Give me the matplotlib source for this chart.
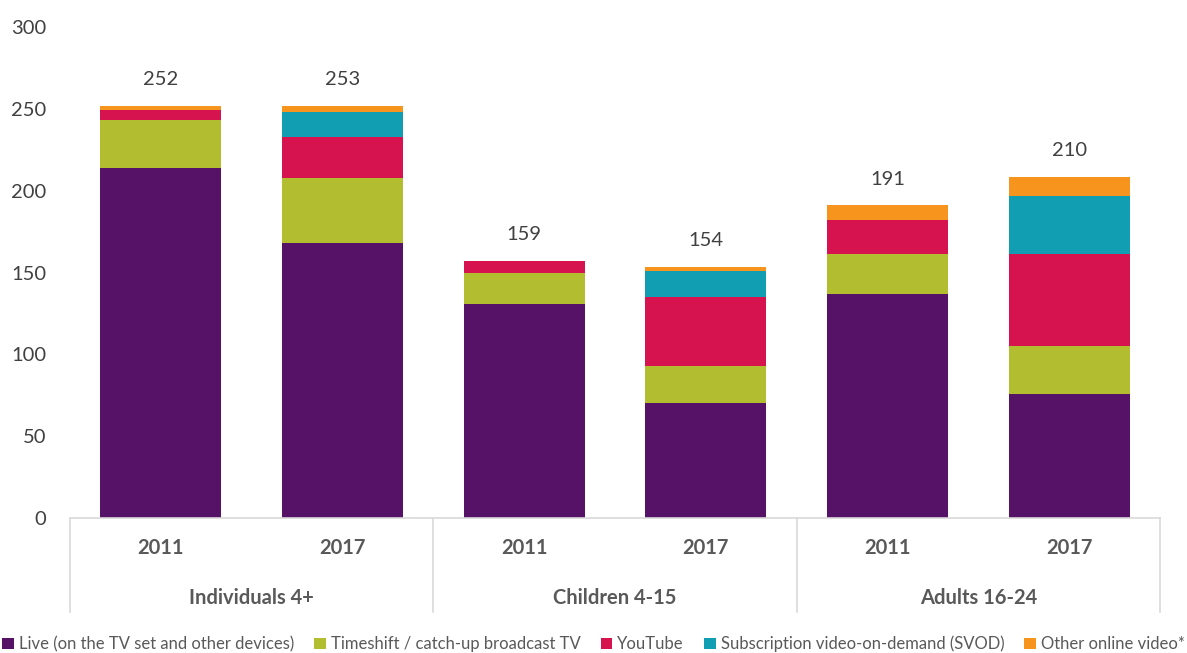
import numpy as np
import matplotlib.pyplot as plt
from matplotlib.transforms import blended_transform_factory
from matplotlib.lines import Line2D

plt.rcParams['font.family'] = ['Lato', 'DejaVu Sans']

# --- data (minutes per day) ---
groups = ["Individuals 4+", "Children 4-15", "Adults 16-24"]
years = ["2011", "2017", "2011", "2017", "2011", "2017"]
series = [
    "Live (on the TV set and other devices)",
    "Timeshift / catch-up broadcast TV",
    "YouTube",
    "Subscription video-on-demand (SVOD)",
    "Other online video*",
]
live = [214, 168, 131, 70, 137, 76]
timeshift = [29, 40, 19, 23, 24, 29]
youtube = [6, 25, 7, 42, 21, 56]
svod = [0, 15, 0, 16, 0, 36]
other = [3, 4, 0, 2.5, 9, 11.5]
totals = [252, 253, 159, 154, 191, 210]

colors = ["#561266", "#B2BE2F", "#D6134F", "#119EB2", "#F7941E"]

fig = plt.figure(figsize=(11.87, 6.53), dpi=100)
ax = fig.add_axes([70 / 1187, 1 - 518 / 653, 1090 / 1187, 491 / 653])

x = np.arange(len(years))
bottom = np.zeros(len(years))
for vals, col, name in zip([live, timeshift, youtube, svod, other], colors, series):
    ax.bar(x, vals, width=0.665, bottom=bottom, color=col, label=name, edgecolor="none")
    bottom += np.array(vals)

for xi, top, t in zip(x, bottom, totals):
    ax.annotate(str(t), (xi, top), xytext=(0, 19), textcoords="offset points",
                ha="center", va="center", fontsize=14.5, color="#404040")

ax.set_xlim(-0.5, len(years) - 0.5)
ax.set_ylim(0, 300)
ax.set_yticks(range(0, 301, 50))
ax.tick_params(axis="y", length=0, labelsize=14.5, labelcolor="#404040", pad=17)
ax.set_xticks([])
for s in ["top", "right", "left"]:
    ax.spines[s].set_visible(False)
ax.spines["bottom"].set_color("#D9D9D9")
ax.spines["bottom"].set_linewidth(1.2)

# two-level category axis
trans = blended_transform_factory(ax.transData, ax.transAxes)
for xi, yr in zip(x, years):
    ax.text(xi, -0.061, yr, transform=trans, ha="center", va="center",
            fontsize=14.5, fontweight="bold", color="#595959")
for gi, g in enumerate(groups):
    ax.text(2 * gi + 0.5, -0.163, g, transform=trans, ha="center", va="center",
            fontsize=14.5, fontweight="bold", color="#595959")
for sx in [-0.5, 1.5, 3.5, 5.5]:
    ax.add_line(Line2D([sx, sx], [0, -0.191], transform=trans, color="#D9D9D9",
                       lw=1.2, clip_on=False))

fig.legend(loc="lower center", bbox_to_anchor=(0.5, -0.022), ncol=5, frameon=False,
           fontsize=12, handlelength=0.7, handleheight=0.7, handletextpad=0.3,
           columnspacing=1.2, labelcolor="#595959")

fig.savefig("out.png", dpi=100)
